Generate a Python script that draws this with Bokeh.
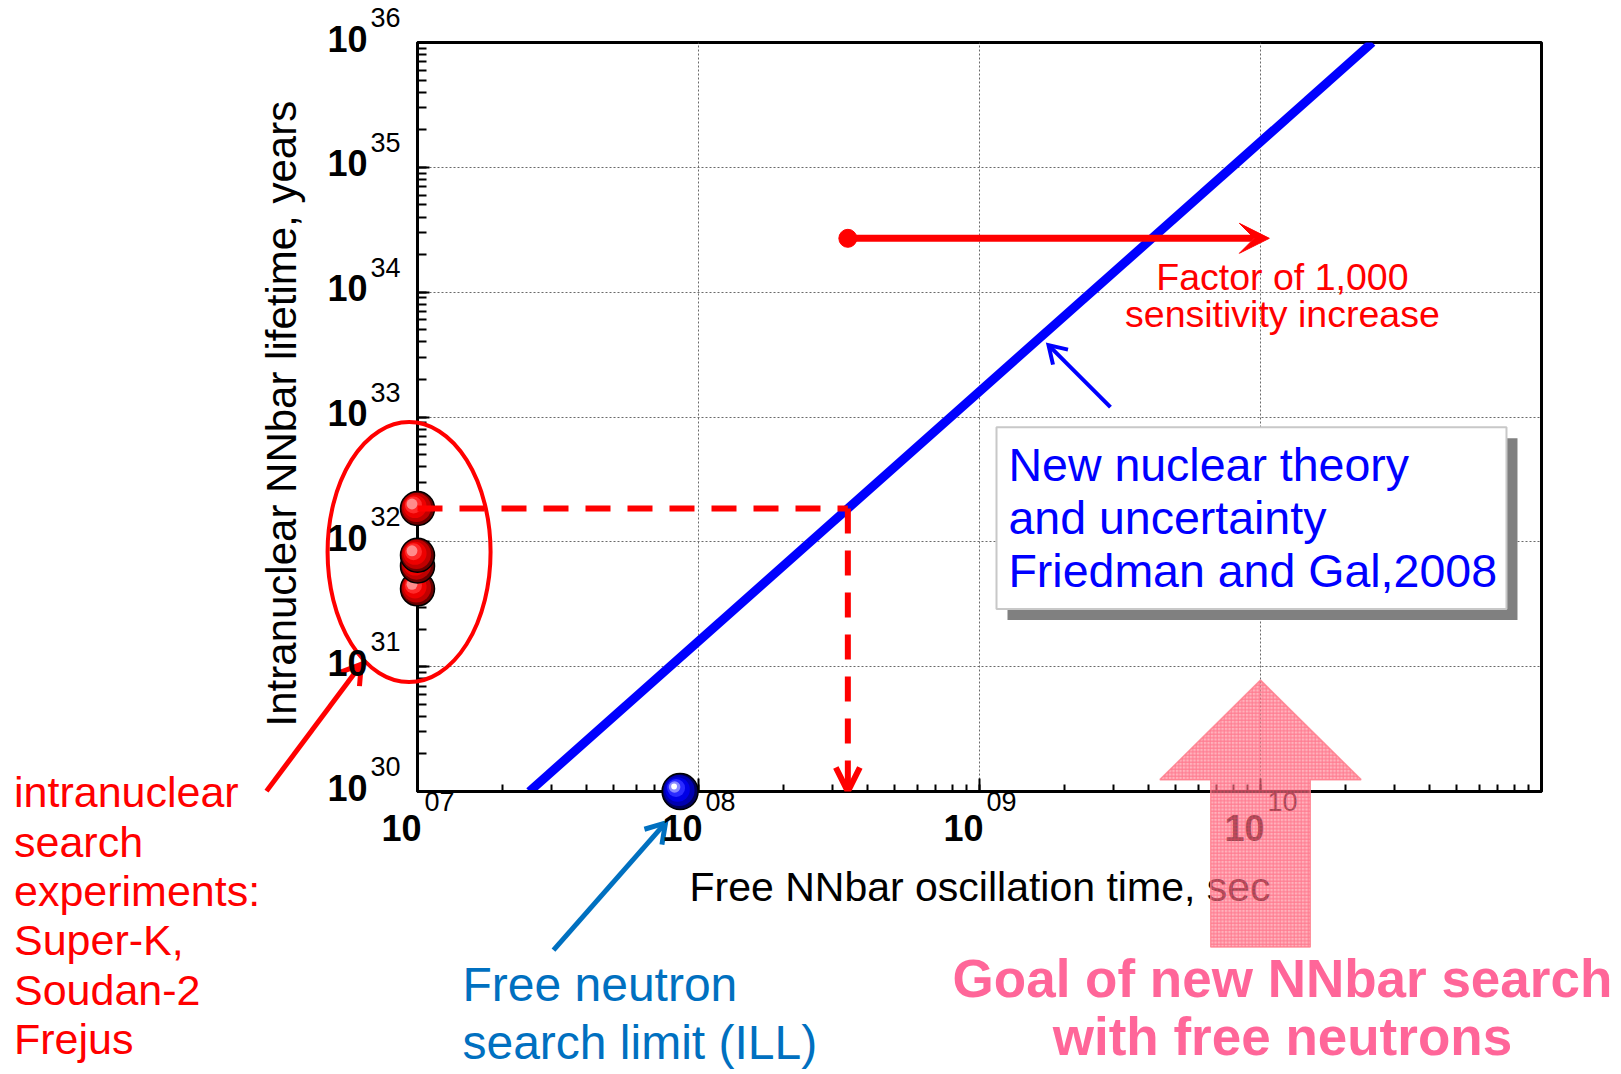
import math
from bokeh.plotting import figure
from bokeh.models import Range1d, Arrow, OpenHead, VeeHead, CustomJSTickFormatter
from bokeh.core.properties import value
from bokeh.embed import file_html
from bokeh.resources import INLINE

# ---------------- data ----------------
x_limits = [1e7, 1e11]                 # free oscillation time, s
y_limits = [1e30, 1e36]                # intranuclear lifetime, yr
theory_tau_free = [2.5e7, 2.5e10]      # Friedman & Gal (T ~ tau^2)
theory_tau_nuc = [1e30, 1e36]
intranuclear_tau_free = [1e7, 1e7, 1e7, 1e7]
intranuclear_limits = [4.2e31, 6.4e31, 7.8e31, 1.85e32]
ill_tau_free = [8.6e7]
ill_tau_nuc = [1e30]
superk_limit = 1.85e32
superk_equiv_tau_free = 3.4e8
sens_tau_free = [3.4e8, 1.075e10]
sens_level = 2.7e34
x_ticks = [1e7, 1e8, 1e9, 1e10]
x_tick_exp = ["07", "08", "09", "10"]
y_ticks = [1e30, 1e31, 1e32, 1e33, 1e34, 1e35, 1e36]
y_tick_exp = ["30", "31", "32", "33", "34", "35", "36"]

FONT = value("Liberation Sans")
PXX = 1124 / 4.0   # px per decade (x)
PXY = 749 / 6.0    # px per decade (y)

def L(v):
    return 10 ** v

p = figure(width=1616, height=1070, x_axis_type="log", y_axis_type="log",
           x_range=Range1d(*x_limits), y_range=Range1d(*y_limits),
           output_backend="svg", toolbar_location=None,
           min_border_left=417, min_border_right=75,
           min_border_top=42, min_border_bottom=279)
p.background_fill_color = "white"
p.border_fill_color = "white"
p.outline_line_color = "black"
p.outline_line_width = 3

for ax, tin, mtin in ((p.xaxis[0], 13, 7), (p.yaxis[0], 12, 9)):
    ax.ticker.num_minor_ticks = 10
    ax.axis_line_width = 3
    ax.axis_line_color = "black"
    ax.major_tick_in = tin
    ax.major_tick_out = 0
    ax.minor_tick_in = mtin
    ax.minor_tick_out = 0
    ax.major_tick_line_width = 2
    ax.minor_tick_line_width = 2
    ax.major_tick_line_color = "black"
    ax.minor_tick_line_color = "black"
    ax.formatter = CustomJSTickFormatter(code="return ''")

p.grid.grid_line_color = "#6a6a6a"
p.grid.grid_line_dash = "2 2"
p.grid.grid_line_width = 1


def open_arrow(x0, y0, x1, y1, color, width, head=22, ang=32):
    """Straight arrow with an open V head, drawn as glyphs (not clipped)."""
    ax_, ay_ = math.log10(x0) * PXX, -math.log10(y0) * PXY
    bx_, by_ = math.log10(x1) * PXX, -math.log10(y1) * PXY
    d = math.hypot(bx_ - ax_, by_ - ay_)
    vx, vy = (ax_ - bx_) / d, (ay_ - by_) / d
    hx, hy = [], []
    for s in (1, -1):
        a = math.radians(ang) * s
        rx = vx * math.cos(a) - vy * math.sin(a)
        ry = vx * math.sin(a) + vy * math.cos(a)
        hx.append(10 ** ((bx_ + head * rx) / PXX))
        hy.append(10 ** (-(by_ + head * ry) / PXY))
    p.multi_line(xs=[[x0, x1], [hx[0], x1, hx[1]]], ys=[[y0, y1], [hy[0], y1, hy[1]]],
                 line_color=color, line_width=width, line_join="miter", line_cap="butt",
                 level="overlay")

# ---------------- text box with shadow ----------------
bl, br, bt, bb = L(9.0605), L(10.8754), L(32.9187), L(31.461)
sx, sy = 10 ** (11 / PXX), 10 ** (-11 / PXY)
p.quad(left=[bl * sx], right=[br * sx], top=[bt * sy], bottom=[bb * sy],
       fill_color="#808080", line_color=None)
p.quad(left=[bl], right=[br], top=[bt], bottom=[bb],
       fill_color="white", line_color="#c8c8c8", line_width=2)

# ---------------- theory line ----------------
p.line(theory_tau_free, theory_tau_nuc, line_color="#0000ff", line_width=9)

# ---------------- arrows ----------------
open_arrow(L(9.466), L(33.079), L(9.2456), L(33.576), "#0000ff", 4, head=20)
open_arrow(L(6.4626), L(30.003), L(6.80), L(31.02), "red", 5, head=22)
open_arrow(L(7.484), L(28.730), L(7.8826), L(29.748), "#0070c0", 5, head=22)

p.add_layout(Arrow(x_start=sens_tau_free[0], y_start=sens_level,
                   x_end=sens_tau_free[1], y_end=sens_level,
                   line_color="red", line_width=7,
                   end=VeeHead(size=30, fill_color="red", line_color="red", line_width=1),
                   level="overlay"))
p.scatter([sens_tau_free[0]], [sens_level], size=18, fill_color="red", line_color="red",
          level="overlay")

# ellipse around intranuclear points
p.ellipse(x=[L(6.970)], y=[L(31.918)], width=163, height=260,
          width_units="screen", height_units="screen",
          fill_color=None, line_color="red", line_width=4, level="overlay")

# ---------------- shaded spheres ----------------
LAYERS = [(1.0, 0, 0), (0.86, -1, -1), (0.68, -2.5, -2), (0.5, -4, -3.5),
          (0.32, -5.5, -4.5), (0.16, -6, -5)]

def sphere(x, y, size, shades):
    for i, ((f, dx, dy), c) in enumerate(zip(LAYERS, shades)):
        p.scatter([x * 10 ** (dx / PXX)], [y * 10 ** (-dy / PXY)], size=size * f,
                  fill_color=c, line_color="black" if i == 0 else None,
                  line_width=1.5, level="overlay")

RED = ["#6a0000", "#c00000", "#ee0000", "#ff2a2a", "#ff8c8c", "#ffffff"]
BLUE = ["#00005a", "#0000b0", "#0000e6", "#2a2aff", "#8a8aff", "#ffffff"]
for xv, yv in zip(intranuclear_tau_free, intranuclear_limits):
    sphere(xv, yv, 34, RED)
for xv, yv in zip(ill_tau_free, ill_tau_nuc):
    sphere(xv, yv, 36, BLUE)

# dashed projection of Super-K limit onto free time axis
p.line([intranuclear_tau_free[0], superk_equiv_tau_free], [superk_limit, superk_limit],
       line_color="red", line_width=6, line_dash="25 17", level="overlay")
p.add_layout(Arrow(x_start=superk_equiv_tau_free, y_start=superk_limit,
                   x_end=superk_equiv_tau_free, y_end=y_limits[0],
                   line_color="red", line_width=6, line_dash="25 17",
                   end=OpenHead(size=24, line_width=6, line_color="red"), level="overlay"))

# ---------------- tick labels ----------------
n = len(x_ticks)
p.text(x=x_ticks, y=[y_limits[0]] * n, text=["10"] * n, x_offset=4, y_offset=36,
       text_align="right", text_baseline="middle", text_font=FONT,
       text_font_style="bold", text_font_size="36px", text_color="black", level="overlay")
p.text(x=x_ticks, y=[y_limits[0]] * n, text=x_tick_exp, x_offset=7, y_offset=10,
       text_align="left", text_baseline="middle", text_font=FONT,
       text_font_size="27px", text_color="black", level="overlay")
m = len(y_ticks)
p.text(x=[x_limits[0]] * m, y=y_ticks, text=["10"] * m, x_offset=-50, y_offset=-4,
       text_align="right", text_baseline="middle", text_font=FONT,
       text_font_style="bold", text_font_size="36px", text_color="black", level="overlay")
p.text(x=[x_limits[0]] * m, y=y_ticks, text=y_tick_exp, x_offset=-47, y_offset=-25,
       text_align="left", text_baseline="middle", text_font=FONT,
       text_font_size="27px", text_color="black", level="overlay")

# ---------------- other texts ----------------
def lines(x, y, texts, spacing, size, color, align="left", bold=False, angle=0):
    k = len(texts)
    p.text(x=[x] * k, y=[y] * k, text=texts, y_offset=[i * spacing for i in range(k)],
           text_align=align, text_baseline="middle", text_font=FONT,
           text_font_style="bold" if bold else "normal", text_font_size=size,
           text_color=color, angle=angle, level="overlay")

lines(L(6.516), L(33.027), ["Intranuclear NNbar lifetime, years"], 0, "42px", "black",
      align="center", angle=math.pi / 2)
lines(L(9.0018), L(29.234), ["Free NNbar oscillation time, sec"], 0, "41px", "black",
      align="center")
lines(L(9.103), L(32.614), ["New nuclear theory", "and uncertainty", "Friedman and Gal,2008"],
      53, "46.5px", "#0000ff")
lines(L(10.078), L(34.12), ["Factor of 1,000", "sensitivity increase"], 37, "37.5px", "red",
      align="center")
lines(L(5.564), L(29.995), ["intranuclear", "search", "experiments:", "Super-K,", "Soudan-2",
                            "Frejus"], 49.4, "43px", "red")
lines(L(7.160), L(28.457), ["Free neutron", "search limit (ILL)"], 58, "48px", "#0070c0")
lines(L(10.078), L(28.5054), ["Goal of new NNbar search", "with free neutrons"], 58, "53px",
      "#ff6699", align="center", bold=True)

# ---------------- goal arrow (semi-transparent, hatched) ----------------
gx = [9.823, 9.823, 9.642, 10.0, 10.358, 10.177, 10.177]
gy = [28.754, 30.095, 30.095, 30.892, 30.095, 30.095, 28.754]
p.patch([L(v) for v in gx], [L(v) for v in gy], fill_color="#ff7f8f", fill_alpha=0.6,
        hatch_pattern="+", hatch_color="#ff4060", hatch_alpha=0.5, hatch_scale=3.5,
        hatch_weight=1, line_color="#ff7a8a", line_width=1.5, line_alpha=0.8,
        level="overlay")

open("out.html", "w").write(file_html(p, INLINE))
